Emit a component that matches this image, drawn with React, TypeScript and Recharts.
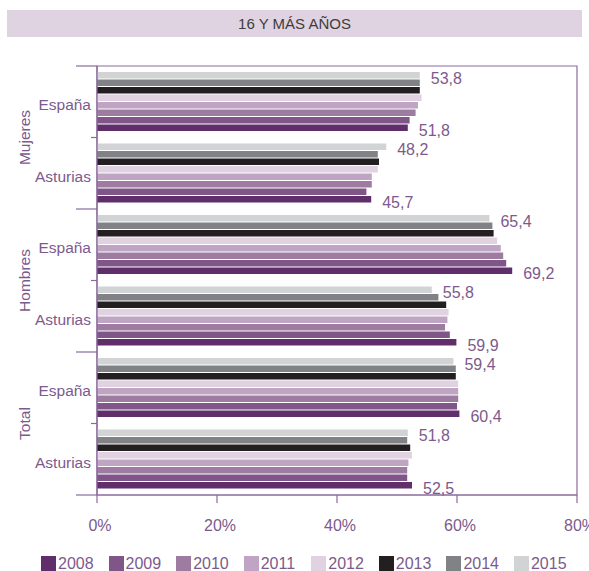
import React from 'react';
import { BarChart, Bar, XAxis, YAxis, ReferenceArea, LabelList } from 'recharts';

const groups = ['Mujeres', 'Hombres', 'Total'];
const places = ['España', 'Asturias'];
const years = ['2008', '2009', '2010', '2011', '2012', '2013', '2014', '2015'];
const colors = ['#5f2e6b', '#7f5687', '#9e7ca2', '#bfa5c3', '#e1d2e2', '#231f20', '#808285', '#d1d3d4'];

// order of rows: Mujeres España, Mujeres Asturias, Hombres España, Hombres Asturias, Total España, Total Asturias
const v2008 = [51.8, 45.7, 69.2, 59.9, 60.4, 52.5];
const v2009 = [52.1, 44.9, 68.2, 58.8, 60.0, 51.7];
const v2010 = [53.1, 45.8, 67.7, 58.0, 60.2, 51.7];
const v2011 = [53.5, 45.8, 67.3, 58.4, 60.2, 51.9];
const v2012 = [54.1, 46.8, 66.7, 58.6, 60.2, 52.5];
const v2013 = [53.8, 47.0, 66.1, 58.2, 59.8, 52.2];
const v2014 = [53.8, 46.8, 65.9, 56.9, 59.8, 51.7];
const v2015 = [53.8, 48.2, 65.4, 55.8, 59.4, 51.8];
const seriesValues = [v2008, v2009, v2010, v2011, v2012, v2013, v2014, v2015];

const xTicks = [0, 20, 40, 60, 80];
const title = '16 Y MÁS AÑOS';

const rows: { key: string; group: string; place: string }[] = [];
groups.forEach((g) => places.forEach((p) => rows.push({ key: `${g} ${p}`, group: g, place: p })));

const data = rows.map((r, i) => {
  const o: any = { key: r.key };
  years.forEach((y, j) => {
    o['y' + y] = seriesValues[j][i];
  });
  return o;
});

const W = 589;
const H = 571;
const M_TOP = 66;
const M_RIGHT = 12;
const Y_W = 97;
const X_H = 76;
const PLOT_H = H - M_TOP - X_H;
const BAND = PLOT_H / rows.length;

const FONT = '"Liberation Sans", Arial, Helvetica, sans-serif';
const TXT = '#7d5a8d';
const LINE = '#8b6b9b';

const CatTick = (props: any) => {
  const { x, y, payload, index } = props;
  const i = typeof index === 'number' ? index : rows.findIndex((r) => r.key === payload.value);
  const r = rows[i];
  const axisX = x + 6;
  const half = BAND / 2;
  const outer = i % 2 === 0;
  return (
    <g>
      <text x={x} y={y + 3} textAnchor="end" dominantBaseline="central" fill={TXT} fontSize={15.5} fontFamily={FONT}>
        {r.place}
      </text>
      <line x1={axisX - (outer ? 21 : 6)} x2={axisX} y1={y - half} y2={y - half} stroke={LINE} strokeWidth={1.2} />
      {i === rows.length - 1 && (
        <line x1={axisX - 21} x2={axisX} y1={y + half} y2={y + half} stroke={LINE} strokeWidth={1.2} />
      )}
      {outer && (
        <text
          x={24}
          y={y + half}
          transform={`rotate(-90 24 ${y + half})`}
          textAnchor="middle"
          dominantBaseline="central"
          fill={TXT}
          fontSize={15.5}
          fontFamily={FONT}
        >
          {r.group}
        </text>
      )}
    </g>
  );
};

const fmt = (v: number) => v.toFixed(1).replace('.', ',');

const ValueLabel = (props: any) => {
  const { x, y, width, height, value } = props;
  return (
    <text
      x={x + width + 11}
      y={y + height / 2 + 3}
      textAnchor="start"
      dominantBaseline="central"
      fill={TXT}
      fontSize={16}
      fontFamily={FONT}
    >
      {fmt(Number(value))}
    </text>
  );
};

export default function App() {
  const order = years.map((y, j) => ({ y, c: colors[j] })).reverse();
  return (
    <div style={{ position: 'absolute', left: 0, top: 0, width: W, height: H, background: '#fff', fontFamily: FONT }}>
      <div
        style={{
          position: 'absolute',
          left: 7,
          top: 10,
          width: 575,
          height: 27,
          background: '#e0d3e1',
          color: '#3d3d3d',
          fontSize: 15,
          lineHeight: '27px',
          textAlign: 'center',
        }}
      >
        {title}
      </div>
      <div style={{ position: 'absolute', left: 0, top: 0 }}>
        <BarChart
          width={W}
          height={H}
          data={data}
          layout="vertical"
          margin={{ top: M_TOP, right: M_RIGHT, left: 0, bottom: 0 }}
          barSize={6.5}
          barGap={1}
        >
          <ReferenceArea x1={0} x2={80} fill="none" stroke={LINE} strokeWidth={1.2} ifOverflow="visible" />
          <XAxis
            type="number"
            domain={[0, 80]}
            ticks={xTicks}
            tickFormatter={(v: number) => `${v}%`}
            height={X_H}
            tickSize={8}
            tickMargin={17}
            axisLine={{ stroke: LINE, strokeWidth: 1.2 }}
            tickLine={{ stroke: LINE, strokeWidth: 1.2 }}
            tick={{ fill: TXT, fontSize: 16, fontFamily: FONT, dx: 3 }}
            interval={0}
          />
          <YAxis
            type="category"
            dataKey="key"
            width={Y_W}
            tickSize={0}
            tickMargin={6}
            tickLine={false}
            axisLine={{ stroke: LINE, strokeWidth: 1.2 }}
            tick={<CatTick />}
            interval={0}
          />
          {order.map((s) => (
            <Bar key={s.y} dataKey={'y' + s.y} fill={s.c} isAnimationActive={false}>
              {(s.y === '2008' || s.y === '2015') && <LabelList dataKey={'y' + s.y} content={<ValueLabel />} />}
            </Bar>
          ))}
        </BarChart>
      </div>
      <div style={{ position: 'absolute', left: 41, top: 556, display: 'flex' }}>
        {years.map((y, j) => (
          <div key={y} style={{ width: 67.57, display: 'flex', alignItems: 'center', height: 15 }}>
            <div style={{ width: 15, height: 15, background: colors[j], marginRight: 2 }} />
            <span style={{ color: TXT, fontSize: 16, lineHeight: '15px' }}>{y}</span>
          </div>
        ))}
      </div>
    </div>
  );
}
